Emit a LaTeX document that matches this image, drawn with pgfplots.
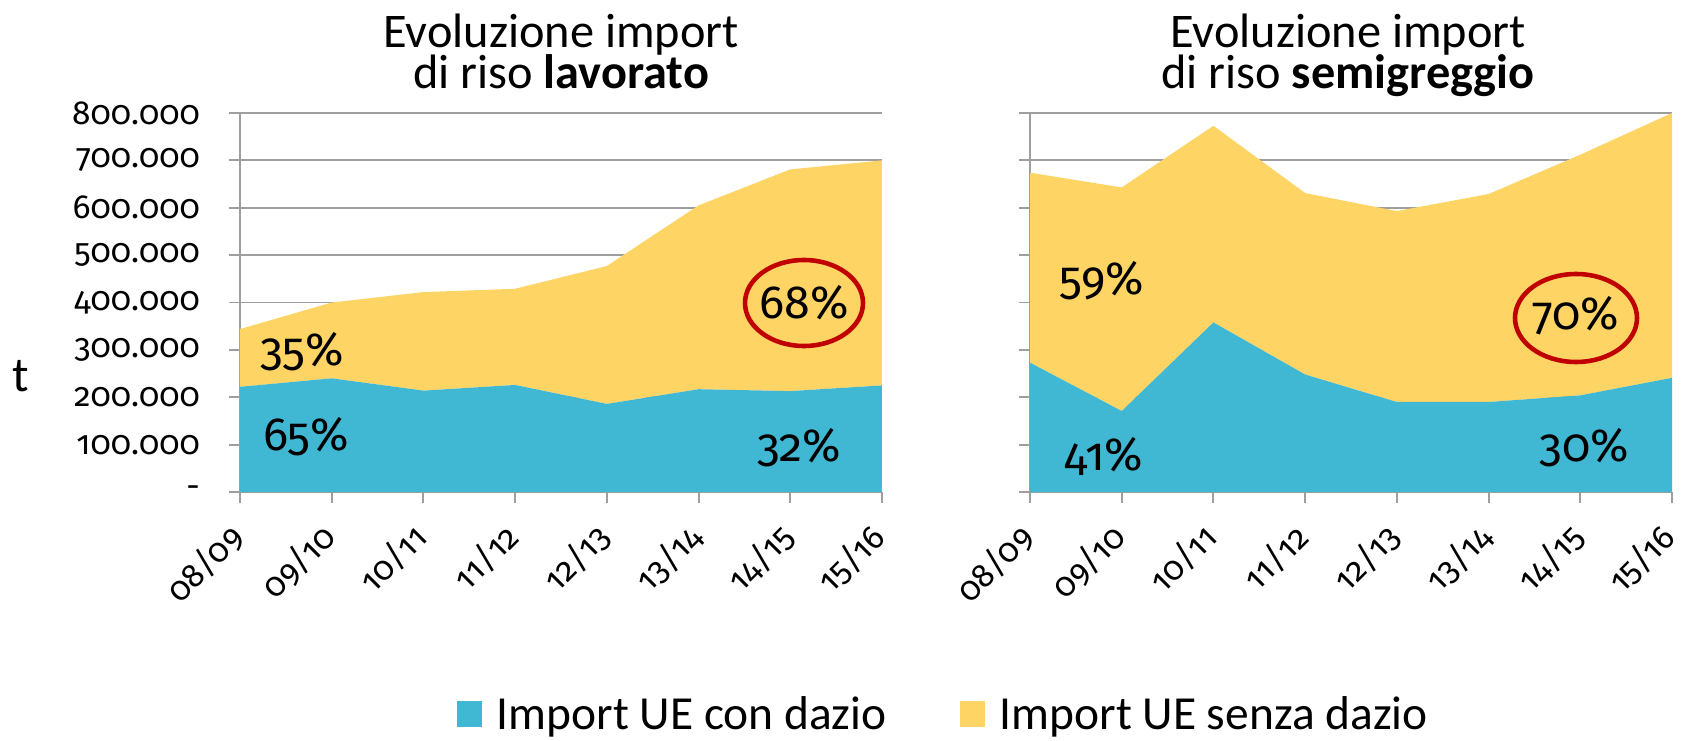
\documentclass[border=0pt]{standalone}
\usepackage{fontspec}
\setmainfont{Carlito}
\newfontfamily\numfont{Fira Sans}[Numbers=OldStyle]
\usepackage{pgfplots}
\pgfplotsset{compat=1.18}
\definecolor{conDazio}{RGB}{65,184,211}
\definecolor{senzaDazio}{RGB}{254,212,101}
\definecolor{gridGray}{RGB}{158,158,158}
\definecolor{cerchio}{RGB}{192,0,0}

\newcommand{\titlefont}{\fontsize{27.5}{27.5}\selectfont}
\newcommand{\pctfont}{\numfont\fontsize{26.5}{26.5}\selectfont}

\pgfplotsset{riso/.style={
  width=12.84cm, height=7.58cm, scale only axis,
  axis lines=left, axis line style={-, gridGray, line width=1.1pt},
  xmin=0, xmax=7, ymin=0, ymax=800,
  xtick={0,...,7},
  xticklabels={08/09,09/10,10/11,11/12,12/13,13/14,14/15,15/16},
  ytick={0,100,...,800},
  ymajorgrids, grid style={gridGray, line width=1.1pt},
  tick align=outside, major tick length=0.22cm,
  tick style={gridGray, line width=1.1pt},
  % shifts are in the rotated frame
  x tick label style={rotate=45, anchor=north east,
    xshift=-0.31cm, yshift=0.07cm,
    font=\numfont\fontsize{19}{19}\selectfont},
  y tick label style={xshift=-0.46cm, font=\numfont\fontsize{19}{19}\selectfont},
  /pgf/number format/assume math mode=true,
  stack plots=y,
}}

\begin{document}
\begin{tikzpicture}
\useasboundingbox (0,0) rectangle (33.62,14.80);

% riso lavorato
\begin{axis}[riso, at={(4.80cm,4.96cm)}, anchor=south west,
  yticklabels={-,100.000,200.000,300.000,400.000,500.000,600.000,700.000,800.000},
  legend image code/.code={\fill[#1] (0cm,-0.26cm) rectangle (0.5cm,0.26cm);},
  legend style={at={(1.097,-0.586)}, anchor=center, draw=none, fill=none,
    legend columns=2, font=\fontsize{27}{27}\selectfont,
    /tikz/every odd column/.append style={column sep=0.22cm},
    /tikz/every even column/.append style={column sep=1.4cm}},
]
\addplot[fill=conDazio, draw=none] coordinates {
  (0,222) (1,240) (2,214) (3,226) (4,186) (5,217) (6,213) (7,225)} \closedcycle;
\addplot[fill=senzaDazio, draw=none] coordinates {
  (0,122) (1,160) (2,208) (3,203) (4,291) (5,388) (6,468) (7,475)} \closedcycle;
\legend{Import UE con dazio, Import UE senza dazio}
\end{axis}

% riso semigreggio
\begin{axis}[riso, at={(20.60cm,4.96cm)}, anchor=south west,
  yticklabels={},
]
\addplot[fill=conDazio, draw=none] coordinates {
  (0,273) (1,171) (2,358) (3,248) (4,190) (5,190) (6,204) (7,241)} \closedcycle;
\addplot[fill=senzaDazio, draw=none] coordinates {
  (0,401) (1,472) (2,415) (3,383) (4,403) (5,439) (6,508) (7,559)} \closedcycle;
\end{axis}

% percentuali e cerchi
\node[font=\pctfont] at (6.04,7.76) {35\%};
\node[font=\pctfont] at (6.12,6.06) {65\%};
\node[font=\pctfont] at (16.08,8.74) {68\%};
\node[font=\pctfont] at (15.98,5.84) {32\%};
\draw[cerchio, line width=2.6pt] (16.08,8.74) ellipse [x radius=1.18cm, y radius=0.86cm];
\node[font=\pctfont] at (22.04,9.18) {59\%};
\node[font=\pctfont] at (22.08,5.68) {41\%};
\node[font=\pctfont] at (31.52,8.48) {70\%};
\node[font=\pctfont] at (31.68,5.84) {30\%};
\draw[cerchio, line width=2.6pt] (31.52,8.44) ellipse [x radius=1.22cm, y radius=0.88cm];

\node[anchor=base, font=\titlefont] at (11.22,13.84) {Evoluzione import};
\node[anchor=base, font=\titlefont] at (11.22,13.02) {di riso \textbf{lavorato}};
\node[anchor=base, font=\titlefont] at (26.96,13.84) {Evoluzione import};
\node[anchor=base, font=\titlefont] at (26.96,13.02) {di riso \textbf{semigreggio}};
\node[anchor=base, font=\fontsize{28}{28}\selectfont] at (0.42,6.96) {t};
\end{tikzpicture}
\end{document}
